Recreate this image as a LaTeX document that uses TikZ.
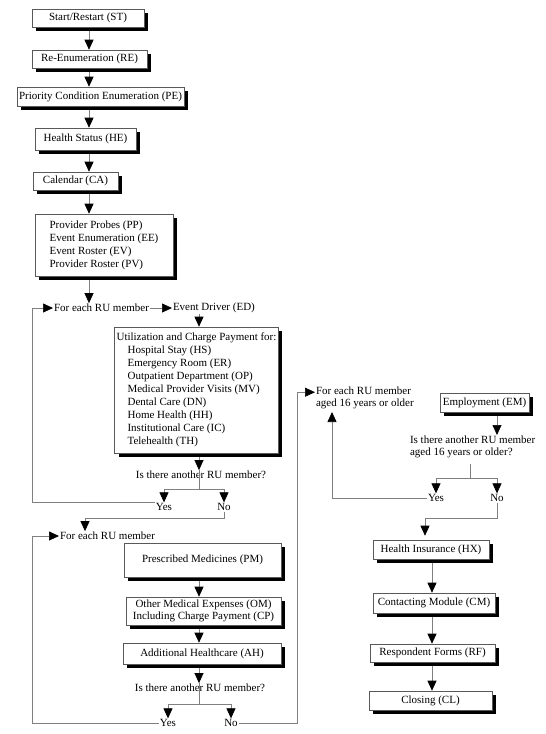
\documentclass[tikz,border=0pt]{standalone}
\usepackage{fontspec}
\setmainfont{Liberation Serif}
\usetikzlibrary{arrows.meta, shadows, positioning}

\begin{document}
\begin{tikzpicture}[x=1pt,y=-1pt,
  every node/.style={font=\fontsize{11}{13}\selectfont},
  modbox/.style={draw=drawColor, fill=white, line width=0.6pt, inner sep=2pt,
    drop shadow={shadow xshift=4pt, shadow yshift=-4pt, fill=black, opacity=1}},
  lbl/.style={inner sep=1pt, outer sep=0pt},
  twoline/.style={lbl, anchor=west, align=left, font=\fontsize{11}{12}\selectfont},
  wire/.style={draw=lineColor, line width=0.7pt},
  flow/.style={wire, -{Triangle[width=9pt,length=10pt,color=black]}}]
\definecolor[named]{drawColor}{rgb}{0.35,0.35,0.35}
\definecolor[named]{lineColor}{rgb}{0.50,0.50,0.50}
\path[use as bounding box, fill=white] (0,0) rectangle (546,734);

% columns and rails
\coordinate (spine) at (89,0);
\coordinate (midcol) at (199,0);
\coordinate (rightcol) at (432,0);
\coordinate (col3) at (497,0);
\coordinate (rail) at (32,0);
\coordinate (rail3) at (297,0);
\coordinate (up3) at (332,0);

% left column
\node[modbox, minimum width=112pt, minimum height=18pt] (ST) at (88,18) {Start/Restart (ST)};
\node[modbox, minimum width=115pt, minimum height=18pt] (RE) at (89.5,59) {Re-Enumeration (RE)};
\node[modbox, minimum width=167pt, minimum height=19pt] (PE) at (100.5,96.5) {Priority Condition Enumeration (PE)};
\node[modbox, minimum width=101pt, minimum height=22pt] (HE) at (85.5,139) {Health Status (HE)};
\node[modbox, minimum width=85pt, minimum height=18pt] (CA) at (75.5,181) {Calendar (CA)};
\node[modbox, minimum width=138pt, minimum height=62pt, align=left] (PP) at (104,245)
  {Provider Probes (PP)\\Event Enumeration (EE)\\Event Roster (EV)\\Provider Roster (PV)};

\draw[flow, shorten <=4pt] (ST.south -| spine) -- (RE.north -| spine);
\draw[flow, shorten <=4pt] (RE.south -| spine) -- (PE.north -| spine);
\draw[flow, shorten <=4pt] (PE.south -| spine) -- (HE.north -| spine);
\draw[flow, shorten <=4pt] (HE.south -| spine) -- (CA.north -| spine);
\draw[flow, shorten <=4pt] (CA.south -| spine) -- (PP.north -| spine);

% first loop
\node[lbl, anchor=west] (FE1) at (53,308) {For each RU member};
\node[lbl, anchor=west] (ED) at (172,308) {Event Driver (ED)};
\node[modbox, minimum width=163pt, minimum height=126pt, align=left] (UT) at (196.5,390)
  {Utilization and Charge Payment for:\\
   \hspace*{11pt}Hospital Stay (HS)\\
   \hspace*{11pt}Emergency Room (ER)\\
   \hspace*{11pt}Outpatient Department (OP)\\
   \hspace*{11pt}Medical Provider Visits (MV)\\
   \hspace*{11pt}Dental Care (DN)\\
   \hspace*{11pt}Home Health (HH)\\
   \hspace*{11pt}Institutional Care (IC)\\
   \hspace*{11pt}Telehealth (TH)};
\node[lbl] (Q1) at (201,475) {Is there another RU member?};
\node[lbl] (Y1) at (164,507) {Yes};
\node[lbl] (N1) at (224,507) {No};
\coordinate (split1) at (199,489);

\draw[flow, shorten <=4pt] (PP.south -| spine) -- (FE1.north -| spine);
\draw[flow] (FE1.east) -- (ED.west);
\draw[flow] (ED.south -| midcol) -- (UT.north -| midcol);
\draw[flow, shorten <=4pt] (UT.south -| midcol) -- (Q1.north -| midcol);
\draw[wire] (Q1.north -| midcol) -- (split1);
\draw[wire] (split1 -| Y1) -- (split1 -| N1);
\draw[flow] (split1 -| Y1) -- (Y1.north);
\draw[flow] (split1 -| N1) -- (N1.north);
\draw[flow] ([yshift=5pt]Y1.west) -| (rail |- FE1.west) -- (FE1.west);

% second loop
\node[lbl, anchor=west] (FE2) at (59,536) {For each RU member};
\node[modbox, minimum width=157pt, minimum height=34pt] (PM) at (202.5,560) {Prescribed Medicines (PM)};
\node[modbox, minimum width=155pt, minimum height=28pt, align=center, font=\fontsize{11}{12}\selectfont] (OM) at (203.5,611)
  {Other Medical Expenses (OM)\\Including Charge Payment (CP)};
\node[modbox, minimum width=158pt, minimum height=21pt] (AH) at (202,653.5) {Additional Healthcare (AH)};
\node[lbl] (Q2) at (200,688) {Is there another RU member?};
\node[lbl] (Y2) at (168,723) {Yes};
\node[lbl] (N2) at (231,723) {No};
\coordinate (bend1) at (85,518);
\coordinate (split2) at (199,704);

\draw[flow] (N1.south) |- (bend1) -- (bend1 |- FE2.north);
\draw[flow, shorten <=4pt] (PM.south -| midcol) -- (OM.north -| midcol);
\draw[flow, shorten <=4pt] (OM.south -| midcol) -- (AH.north -| midcol);
\draw[flow, shorten <=4pt] (AH.south -| midcol) -- (Q2.north -| midcol);
\draw[wire] (Q2.north -| midcol) -- (split2);
\draw[wire] (split2 -| Y2) -- (split2 -| N2);
\draw[flow] (split2 -| Y2) -- (Y2.north);
\draw[flow] (split2 -| N2) -- (N2.north);
\draw[flow] (Y2.west) -| (rail |- FE2.west) -- (FE2.west);

% employment loop
\node[twoline] (FE3) at (315,398) {For each RU member\\aged 16 years or older};
\node[modbox, minimum width=89pt, minimum height=19pt] (EM) at (484.5,402.5) {Employment (EM)};
\node[twoline] (Q3) at (409,447) {Is there another RU member\\aged 16 years or older?};
\node[lbl] (Y3) at (436,498) {Yes};
\node[lbl] (N3) at (497,498) {No};
\coordinate (top3) at ([yshift=5.8pt]FE3.west);
\coordinate (split3) at (470,478);
\coordinate (bend3) at (425,518);

\draw[flow] (N2.east) -| (rail3 |- top3) -- (top3);
\draw[flow, shorten <=4pt] (EM.south -| col3) -- (Q3.north -| col3);
\draw[wire] (split3 |- Q3.south) ++(0,5) -- (split3);
\draw[wire] (split3 -| Y3) -- (split3 -| N3);
\draw[flow] (split3 -| Y3) -- (Y3.north);
\draw[flow] (split3 -| N3) -- (N3.north);
\draw[flow, shorten >=2pt] (Y3.west) -| (up3 |- FE3.south);

% closing column
\node[modbox, minimum width=116pt, minimum height=19pt] (HX) at (431,549.5) {Health Insurance (HX)};
\node[modbox, minimum width=122pt, minimum height=20pt] (CM) at (434,603) {Contacting Module (CM)};
\node[modbox, minimum width=125pt, minimum height=18pt] (RF) at (432.5,653) {Respondent Forms (RF)};
\node[modbox, minimum width=123pt, minimum height=19pt] (CL) at (430.5,700.5) {Closing (CL)};

\draw[flow, shorten >=4pt] (N3.south) |- (bend3) -- (bend3 |- HX.north);
\draw[flow, shorten <=4pt] (HX.south -| rightcol) -- (CM.north -| rightcol);
\draw[flow, shorten <=4pt] (CM.south -| rightcol) -- (RF.north -| rightcol);
\draw[flow, shorten <=4pt] (RF.south -| rightcol) -- (CL.north -| rightcol);
\end{tikzpicture}
\end{document}
